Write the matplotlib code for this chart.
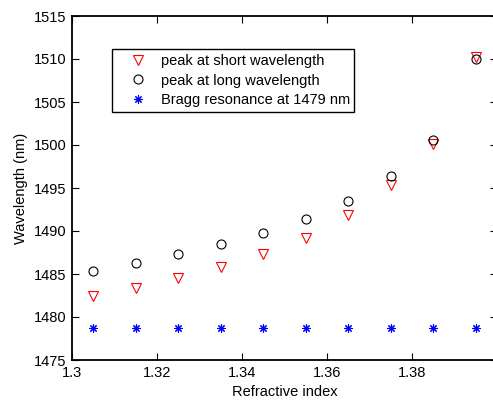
import numpy as np
import matplotlib
matplotlib.use('Agg')
from matplotlib import pyplot as plt

plt.rcParams['font.family'] = ['Liberation Sans', 'DejaVu Sans']
plt.rcParams['font.size'] = 10.5

# refractive index of the surrounding medium
n_index = [1.305, 1.315, 1.325, 1.335, 1.345, 1.355, 1.365, 1.375, 1.385, 1.395]
# peak positions (nm)
peak_short = [1482.4, 1483.4, 1484.5, 1485.8, 1487.3, 1489.2, 1491.9, 1495.35, 1500.1, 1510.2]
peak_long = [1485.4, 1486.3, 1487.3, 1488.5, 1489.8, 1491.4, 1493.5, 1496.4, 1500.6, 1510.0]
bragg = [1478.7, 1478.7, 1478.7, 1478.7, 1478.75, 1478.7, 1478.7, 1478.7, 1478.7, 1478.7]

fig = plt.figure(figsize=(4.93, 4.01), dpi=100)
ax = fig.add_axes([72/493, 1-360/401, 425/493, 344/401])

ax.plot(n_index, peak_short, linestyle='none', marker='v', markersize=7,
        markerfacecolor='none', markeredgecolor='red', markeredgewidth=0.8,
        label='peak at short wavelength')
ax.plot(n_index, peak_long, linestyle='none', marker='o', markersize=6.5,
        markerfacecolor='none', markeredgecolor='black', markeredgewidth=0.8,
        label='peak at long wavelength')
ax.plot(n_index, bragg, linestyle='none', marker=(8, 2, 0), markersize=6,
        markeredgecolor='blue', markeredgewidth=0.8,
        label='Bragg resonance at 1479 nm')

ax.set_xlim(1.3, 1.4)
ax.set_ylim(1475, 1515)
ax.set_xticks([1.3, 1.32, 1.34, 1.36, 1.38, 1.4])
# the 1.4 label falls outside the cropped picture
ax.set_xticklabels(['1.3', '1.32', '1.34', '1.36', '1.38', ''])
ax.set_yticks(np.arange(1475, 1516, 5))
ax.tick_params(direction='in', top=True, right=True, length=5, width=0.8, pad=4)
for sp in ax.spines.values():
    sp.set_linewidth(1.3)

ax.set_xlabel('Refractive index', labelpad=4)
ax.set_ylabel('Wavelength (nm)', labelpad=4)

leg = ax.legend(loc='upper left', bbox_to_anchor=(0.094, 0.903), borderaxespad=0,
                fancybox=False, framealpha=1, edgecolor='black',
                handlelength=2.95, handletextpad=0.1, labelspacing=0.4,
                borderpad=0.3, numpoints=1)
leg.get_frame().set_linewidth(1.0)

fig.savefig('out.png', dpi=100)
